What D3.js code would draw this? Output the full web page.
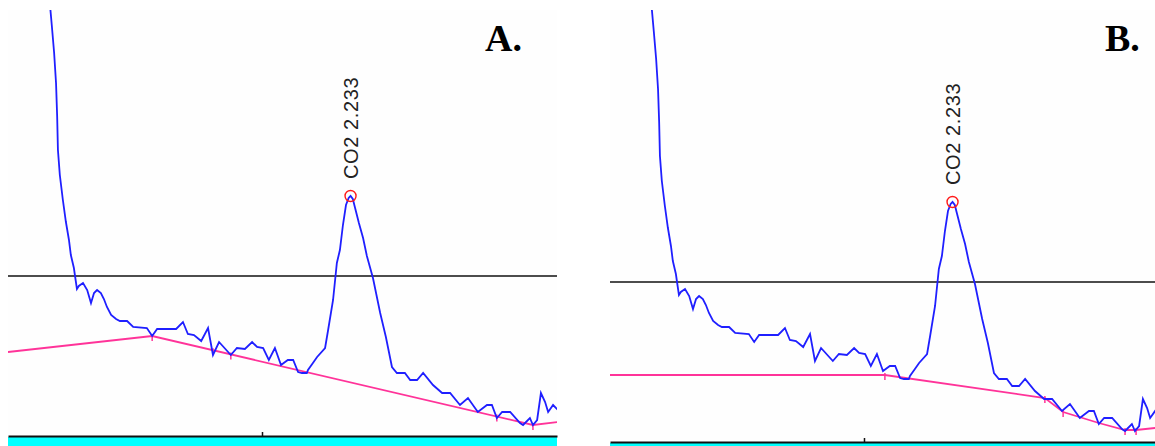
<!DOCTYPE html>
<html>
<head>
<meta charset="utf-8">
<script src="https://cdn.jsdelivr.net/npm/d3@7"></script>
<style>
  html, body { margin: 0; padding: 0; background: #ffffff; overflow: hidden; }
  svg { display: block; }
</style>
</head>
<body>
<svg id="chart" width="1155" height="446"></svg>
<script>
// Detector trace: retention time (min) and signal (mV)
const time = [
  1.440, 1.447, 1.453, 1.458, 1.461, 1.463, 1.468, 1.476, 1.484, 1.492,
  1.497, 1.505, 1.508, 1.513, 1.518, 1.529, 1.540, 1.550, 1.558, 1.566,
  1.576, 1.584, 1.592, 1.603, 1.616, 1.626, 1.645, 1.661, 1.697, 1.711,
  1.724, 1.774, 1.792, 1.805, 1.821, 1.840, 1.858, 1.871, 1.887, 1.918,
  1.934, 1.955, 1.974, 1.987, 2.003, 2.018, 2.034, 2.050, 2.068, 2.082,
  2.095, 2.105, 2.118, 2.121, 2.134, 2.145, 2.166, 2.174, 2.187, 2.197,
  2.205, 2.213, 2.221, 2.228, 2.233, 2.239, 2.245, 2.255, 2.266, 2.276,
  2.292, 2.311, 2.326, 2.342, 2.355, 2.376, 2.390, 2.408, 2.424, 2.450,
  2.474, 2.495, 2.521, 2.542, 2.568, 2.592, 2.605, 2.618, 2.632, 2.653,
  2.679, 2.687, 2.705, 2.713, 2.724, 2.734, 2.745, 2.753, 2.766, 2.779
];
const signal = [
  440, 410, 383, 353, 319, 286, 261, 236, 214, 196,
  181, 168, 160, 147, 150, 153, 146, 133, 143, 146,
  143, 137, 129, 121, 117, 115, 115, 109, 108, 100,
  107, 107, 114, 102, 101,  95, 108,  81,  94,  81,
   88,  87,  94,  89,  88,  76,  88,  71,  76,  76,
   64,  63,  63,  66,  73,  79,  88, 106, 136, 173,
  186, 211, 231, 238, 240, 237, 228, 213, 198, 180,
  158, 123,  99,  69,  63,  63,  56,  56,  63,  51,
   43,  43,  31,  38,  24,  31,  31,  18,  24,  24,
   13,  11,  18,  11,  16,  43,  34,  24,  31,  26
];

// Baseline A: fitted through valley points
const baselineA_time  = [1.3316, 1.711, 2.713, 2.779];
const baselineA_value = [84, 100, 11, 14];
const anchorsA = [1.711, 1.871, 1.918, 2.618, 2.713];

// Baseline B: flat start, then drop-to-valley segments
const baselineB_time  = [1.3316, 2.055, 2.476, 2.524, 2.618, 2.687, 2.716, 2.766];
const baselineB_value = [67, 67, 44, 30, 19, 12, 12, 14];
const anchorsB = [2.055, 2.476, 2.524, 2.687, 2.716];

// Peak annotation and detection threshold
const peakName = "CO2";
const peakTime = 2.233;
const peakValue = 240;
const threshold = 160;
const axisTicks = [2.0];
const panelLabels = ["A.", "B."];

const points = time.map((t, i) => ({ t, v: signal[i] }));
const baselineA = baselineA_time.map((t, i) => ({ t, v: baselineA_value[i] }));
const baselineB = baselineB_time.map((t, i) => ({ t, v: baselineB_value[i] }));

const panels = [
  { label: panelLabels[0], x0: 8,   x1: 557,  yTop: 10, yBottom: 436,
    tMin: 1.3316, tMax: 2.7763, vMax: 426, baseline: baselineA, anchors: anchorsA, labelX: 485 },
  { label: panelLabels[1], x0: 610, x1: 1155, yTop: 10, yBottom: 442,
    tMin: 1.3316, tMax: 2.7658, vMax: 432, baseline: baselineB, anchors: anchorsB, labelX: 1105 }
];

const svg = d3.select("#chart");
const H = 446;

panels.forEach((p, idx) => {
  const x = d3.scaleLinear().domain([p.tMin, p.tMax]).range([p.x0, p.x1]);
  const y = d3.scaleLinear().domain([0, p.vMax]).range([p.yBottom, p.yTop]);
  const g = svg.append("g");

  const clipId = "clip" + idx;
  svg.append("defs").append("clipPath").attr("id", clipId)
    .append("rect")
    .attr("x", p.x0).attr("y", p.yTop)
    .attr("width", p.x1 - p.x0).attr("height", p.yBottom - p.yTop);

  // plot background
  g.append("rect")
    .attr("x", p.x0).attr("y", p.yTop)
    .attr("width", p.x1 - p.x0).attr("height", p.yBottom - p.yTop)
    .attr("fill", "#fefefe");

  // cyan strip under the time axis
  g.append("rect")
    .attr("x", p.x0).attr("y", p.yBottom + 1)
    .attr("width", p.x1 - p.x0).attr("height", H - p.yBottom - 1)
    .attr("fill", "#00ffff");

  const plot = g.append("g").attr("clip-path", `url(#${clipId})`);

  // threshold line
  plot.append("line")
    .attr("x1", p.x0).attr("x2", p.x1)
    .attr("y1", y(threshold)).attr("y2", y(threshold))
    .attr("stroke", "#111").attr("stroke-width", 1.6);

  const line = d3.line().x(d => x(d.t)).y(d => y(d.v));

  // baseline
  plot.append("path")
    .datum(p.baseline)
    .attr("d", line)
    .attr("fill", "none")
    .attr("stroke", "#ff3399")
    .attr("stroke-width", 1.8);

  // baseline anchor ticks
  const baseInterp = t => {
    const b = p.baseline;
    for (let i = 0; i < b.length - 1; i++) {
      if (t >= b[i].t && t <= b[i + 1].t) {
        const f = (t - b[i].t) / (b[i + 1].t - b[i].t);
        return b[i].v + f * (b[i + 1].v - b[i].v);
      }
    }
    return b[b.length - 1].v;
  };
  plot.selectAll(".anchor").data(p.anchors).enter().append("line")
    .attr("x1", d => x(d)).attr("x2", d => x(d))
    .attr("y1", d => y(baseInterp(d)) - 2)
    .attr("y2", d => y(baseInterp(d)) + 5)
    .attr("stroke", "#ff3399").attr("stroke-width", 1.5);

  // signal trace
  plot.append("path")
    .datum(points)
    .attr("d", line)
    .attr("fill", "none")
    .attr("stroke", "#1f1fff")
    .attr("stroke-width", 1.8)
    .attr("stroke-linejoin", "miter");

  // peak marker
  g.append("circle")
    .attr("cx", x(peakTime)).attr("cy", y(peakValue))
    .attr("r", 5.5)
    .attr("fill", "none")
    .attr("stroke", "#ff1a1a")
    .attr("stroke-width", 1.4);

  g.append("text")
    .attr("transform", `translate(${x(peakTime)},${y(peakValue) - 17}) rotate(-90)`)
    .attr("dy", "0.36em")
    .attr("font-family", "Liberation Sans, Arial, sans-serif")
    .attr("font-size", 20)
    .attr("letter-spacing", 0.6)
    .attr("fill", "#222")
    .text(`${peakName} ${peakTime.toFixed(3)}`);

  // time axis
  const axis = d3.axisBottom(x).tickValues(axisTicks).tickFormat("")
    .tickSizeInner(-4).tickSizeOuter(0);
  const ax = g.append("g").attr("transform", `translate(0,${p.yBottom})`).call(axis);
  ax.select(".domain").attr("stroke", "#111").attr("stroke-width", 2);
  ax.selectAll(".tick line").attr("stroke", "#111").attr("stroke-width", 1.5);

  // panel letter
  g.append("text")
    .attr("x", p.labelX).attr("y", 51)
    .attr("font-family", "Liberation Serif, 'Times New Roman', serif")
    .attr("font-weight", "bold")
    .attr("font-size", 38)
    .attr("fill", "#000")
    .text(p.label);
});
</script>
</body>
</html>
